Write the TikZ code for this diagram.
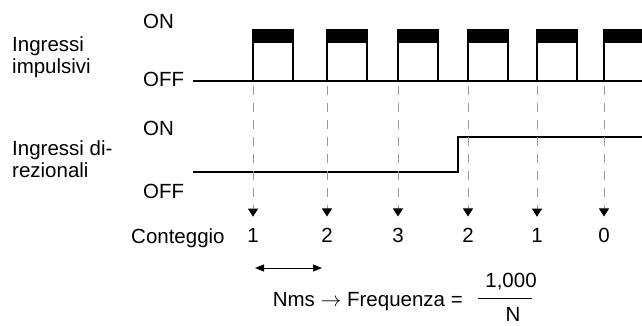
\documentclass[tikz,border=0pt]{standalone}
\usepackage{fontspec}
\setmainfont{Liberation Sans}
\usetikzlibrary{positioning,arrows.meta}

\begin{document}
\begin{tikzpicture}[
  x=1pt, y=-1pt,
  font=\fontsize{20.5}{21.5}\selectfont, >=Stealth,
  lbl/.style={inner sep=0pt, align=left, anchor=west},
  lvl/.style={inner sep=0pt, anchor=base west},
  sig/.style={line width=1.1pt},
  guide/.style={gray!80, line width=0.8pt, dash pattern=on 9pt off 8pt,
                -{Triangle[black,length=8pt,width=10pt]}, shorten >=11pt},
  count/.style={inner sep=0pt, anchor=base},
  span/.style={{Triangle[length=9pt,width=7pt]}-{Triangle[length=9pt,width=7pt]}, line width=1pt},
]
\useasboundingbox (0,0) rectangle (642,325);
\clip (0,0) rectangle (642,325);

% pulse input
\node[lbl] (pin) at (12,57) {Ingressi\\impulsivi};
\node[lvl] (pon) at (143,28) {ON};
\node[lvl] (poff) at (143,86) {OFF};
\draw[sig] (193,81) -- (642,81);
\foreach \x [count=\i] in {253,327,398,468,537,604} {
  \fill (\x,30) rectangle (\x+40,43);
  \draw[sig] (\x,81) -- (\x,30) -- (\x+40,30) -- (\x+40,81);
  \draw[line width=2.2pt] (\x,81) -- (\x+40,81);
  \coordinate (p\i) at (\x,86);
}

% direction input
\node[lbl] (din) at (12,159) {Ingressi di-\\rezionali};
\node[lvl] (don) at (143,135) {ON};
\node[lvl] (doff) at (143,198) {OFF};
\draw[sig] (193,172) -- (458,172) -- (458,137) -- (642,137);

% count
\node[lvl] (cnt) at (131,243) {Conteggio};
\foreach \x/\n [count=\i] in {253/1,327/2,398/3,468/2,537/1,604/0} {
  \node[count] (c\i) at (\x,242) {\n};
  \draw[guide] (p\i) -- (c\i.north);
}
\draw[span] ([xshift=2pt,yshift=-26pt]c1.base) -- ([xshift=-5pt,yshift=-26pt]c2.base);

% frequency
\node[inner sep=0pt, anchor=base east] (freq) at (463,306) {Nms $\rightarrow$ Frequenza =};
\node[inner sep=0pt] (num) at (511,282) {1,000};
\node[inner sep=0pt] (den) at (513,314) {N};
\draw[line width=1pt] (478,298) -- (532,298);
\end{tikzpicture}
\end{document}
